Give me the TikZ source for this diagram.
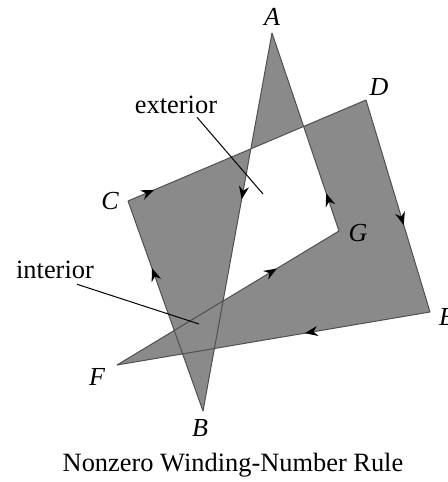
\documentclass[tikz,border=0pt]{standalone}
\usepackage{fontspec}
\setmainfont{Liberation Serif}
\usetikzlibrary{arrows.meta,decorations.markings}
\definecolor{regiongray}{RGB}{138,138,138}
\definecolor{rimgray}{RGB}{80,80,80}

\begin{document}
\begin{tikzpicture}[x=0.5pt, y=-0.5pt,
  rim/.style={draw=rimgray, line width=0.5pt},
  midarrow/.style={postaction={decorate}, decoration={markings,
    mark=at position #1 with {\arrow[black]{Stealth[length=6.5pt,width=5pt]}}}},
  vlabel/.style={font=\fontsize{13}{15}\selectfont\itshape, inner sep=0pt},
  tag/.style={font=\fontsize{13.2}{15}\selectfont, inner sep=1pt},
  leader/.style={draw=black, line width=0.5pt}]
\useasboundingbox (0,0) rectangle (448,482);
% corners of the star polygon
\coordinate (A) at (272,33);
\coordinate (B) at (203,411);
\coordinate (C) at (128,201);
\coordinate (D) at (366,100);
\coordinate (E) at (430,312);
\coordinate (F) at (117,365);
\coordinate (G) at (339,231);
% region filled with the nonzero winding-number rule
\fill[regiongray, nonzero rule] (A) -- (B) -- (C) -- (D) -- (E) -- (F) -- (G) -- cycle;
\draw[rim, midarrow=0.44] (A) -- (B);
\draw[rim, midarrow=0.68] (B) -- (C);
\draw[rim, midarrow=0.11] (C) -- (D);
\draw[rim, midarrow=0.59] (D) -- (E);
\draw[rim, midarrow=0.40] (E) -- (F);
\draw[rim, midarrow=0.72] (F) -- (G);
\draw[rim, midarrow=0.19] (G) -- (A);
% vertex names
\node[vlabel] (lA) at (272,17) {A};
\node[vlabel] (lB) at (200,428) {B};
\node[vlabel] (lC) at (110,201) {C};
\node[vlabel] (lD) at (379,87) {D};
\node[vlabel] (lE) at (447,317) {E};
\node[vlabel] (lF) at (97,377) {F};
\node[vlabel] (lG) at (358,233) {G};
% region tags
\coordinate (extpt) at (263,194);
\coordinate (intpt) at (199,324);
\node[tag] (ext) at (176,105) {exterior};
\node[tag] (int) at (55,270) {interior};
\draw[leader] (ext.south) ++(21,1) -- (extpt);
\draw[leader] (int.south) ++(22,3) -- (intpt);
\node[tag] (caption) at (233,465) {Nonzero Winding-Number Rule};
\end{tikzpicture}
\end{document}
